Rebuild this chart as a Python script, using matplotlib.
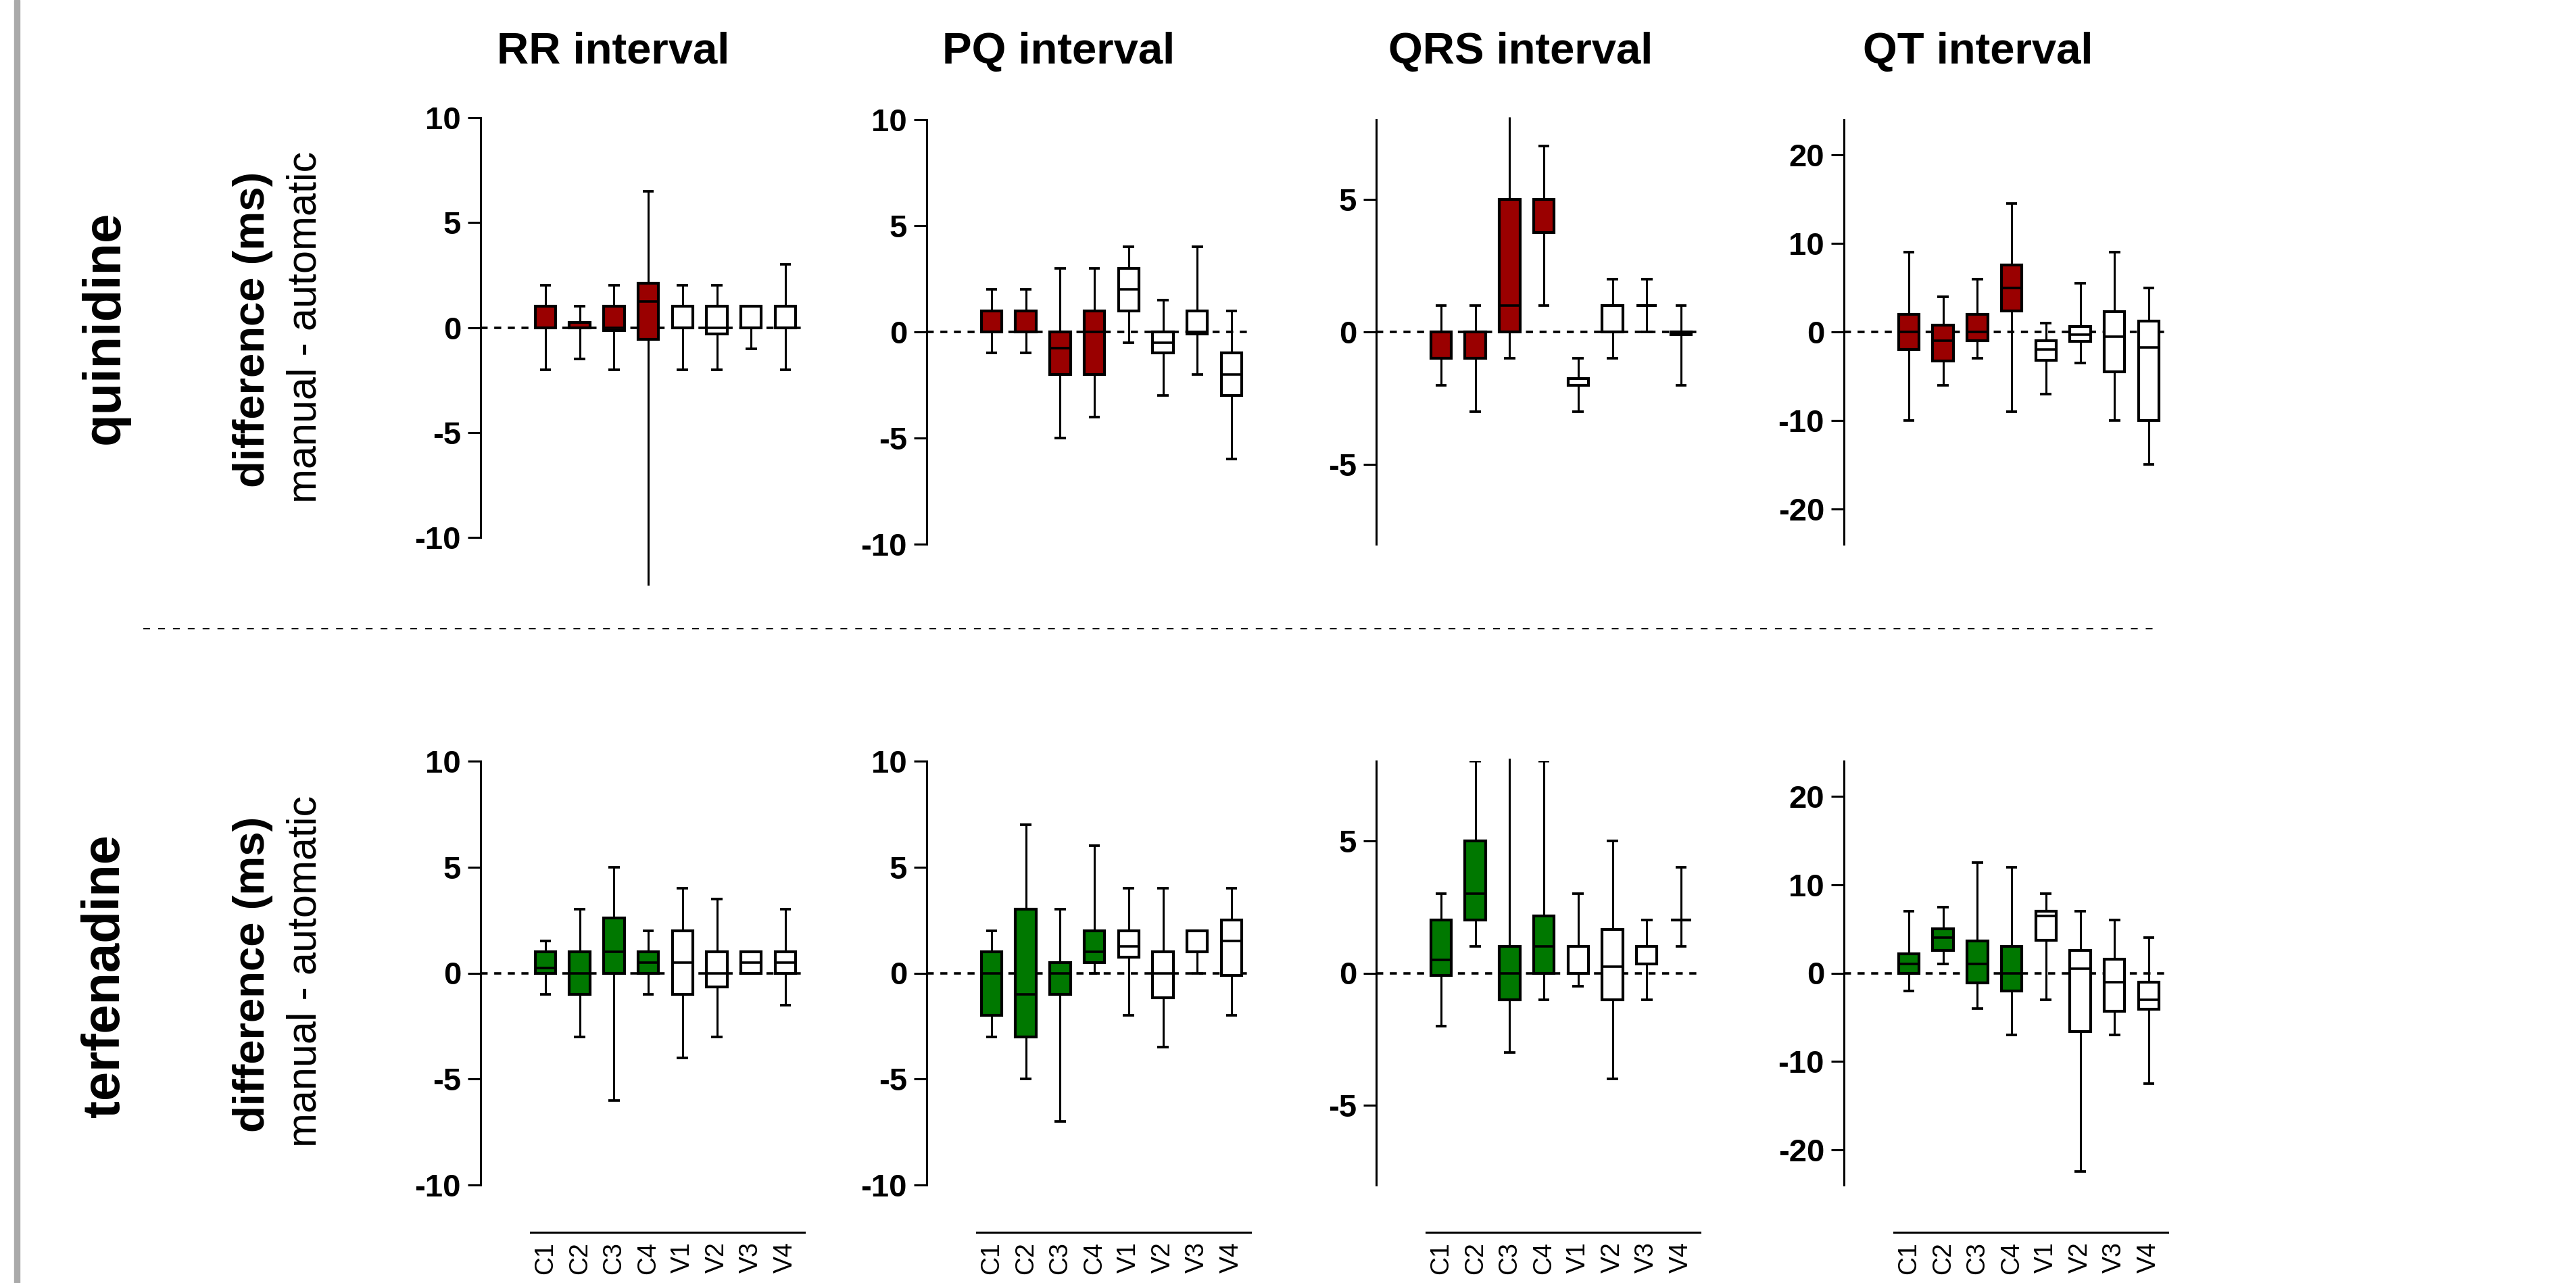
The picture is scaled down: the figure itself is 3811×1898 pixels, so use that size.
import matplotlib
matplotlib.use('Agg')
import matplotlib.pyplot as plt
from matplotlib.lines import Line2D
from matplotlib.patches import Rectangle

plt.rcParams['font.family'] = ['Liberation Sans', 'DejaVu Sans']
plt.rcParams['axes.unicode_minus'] = False
plt.rcParams['lines.scale_dashes'] = False

# ---------------- data ----------------
groups = ['C1', 'C2', 'C3', 'C4', 'V1', 'V2', 'V3', 'V4']
titles = ['RR interval', 'PQ interval', 'QRS interval', 'QT interval']
row_names = ['quinidine', 'terfenadine']

# each panel: rows = whisker low, Q1, median, Q3, whisker high
quin_RR = [[-2, -1.5, -2, -12.3, -2, -2, -1, -2],
           [0, 0, -0.15, -0.55, 0, -0.3, 0, 0],
           [0, 0, 0, 1.25, 0, 0, 0, 0],
           [1, 0.25, 1, 2.1, 1, 1, 1, 1],
           [2, 1, 2, 6.5, 2, 2, 1, 3]]
quin_PQ = [[-1, -1, -5, -4, -0.5, -3, -2, -6],
           [0, 0, -2, -2, 1, -1, -0.1, -3],
           [0, 0, -0.75, 0, 2, -0.5, 0, -2],
           [1, 1, 0, 1, 3, 0, 1, -1],
           [2, 2, 3, 3, 4, 1.5, 4, 1]]
quin_QRS = [[-2, -3, -1, 1, -3, -1, 0, -2],
            [-1, -1, 0, 3.75, -2, 0, 1, -0.1],
            [0, 0, 1, 5, -2, 0, 1, 0],
            [0, 0, 5, 5, -1.75, 1, 1, 0],
            [1, 1, 8.1, 7, -1, 2, 2, 1]]
quin_QT = [[-10, -6, -3, -9, -7, -3.5, -10, -15],
           [-2, -3.25, -1, 2.4, -3.2, -1.1, -4.5, -10],
           [0, -1, 0, 5, -2, -0.3, -0.5, -1.75],
           [2, 0.75, 2, 7.6, -1, 0.6, 2.3, 1.25],
           [9, 4, 6, 14.5, 1, 5.5, 9, 5]]
terf_RR = [[-1, -3, -6, -1, -4, -3, 0, -1.5],
           [0, -1, 0, 0, -1, -0.65, 0, 0],
           [0.25, 0, 1, 0.5, 0.5, 0, 0.5, 0.5],
           [1, 1, 2.6, 1, 2, 1, 1, 1],
           [1.5, 3, 5, 2, 4, 3.5, 1, 3]]
terf_PQ = [[-3, -5, -7, 0, -2, -3.5, 0, -2],
           [-2, -3, -1, 0.5, 0.75, -1.15, 1, -0.1],
           [0, -1, 0, 1, 1.25, 0, 1, 1.5],
           [1, 3, 0.5, 2, 2, 1, 2, 2.5],
           [2, 7, 3, 6, 4, 4, 2, 4]]
terf_QRS = [[-2, 1, -3, -1, -0.5, -4, -1, 1],
            [-0.1, 2, -1, 0, 0, -1, 0.35, 2],
            [0.5, 3, 0, 1, 0, 0.25, 1, 2],
            [2, 5, 1, 2.15, 1, 1.65, 1, 2],
            [3, 8, 8.1, 8, 3, 5, 2, 4]]
terf_QT = [[-2, 1, -4, -7, -3, -22.5, -7, -12.5],
           [0, 2.6, -1.1, -2, 3.7, -6.6, -4.3, -4.1],
           [1, 4, 1, 0, 6.5, 0.5, -1, -3],
           [2.2, 5, 3.6, 3, 7, 2.6, 1.6, -1],
           [7, 7.5, 12.5, 12, 9, 7, 6, 4]]

yticks_list = [[-10, -5, 0, 5, 10], [-10, -5, 0, 5, 10], [-5, 0, 5], [-20, -10, 0, 10, 20]]
ylims = [10, 10, 8, 24]

# ---------------- layout ----------------
W, H = 3811, 1898
fig = plt.figure(figsize=(W / 100, H / 100), dpi=100)
fig.patch.set_facecolor('white')

RED = '#9a0000'
GREEN = '#007800'

axis_left = [711, 1371, 2036, 2728]
spacing = 50.7
x_lo = -96 / spacing
x_hi = 7 + 24 / spacing
ax_w = (x_hi - x_lo) * spacing
top_rows = [[(174, 795), (177, 805), (177, 805), (177, 805)],
            [(1126, 1753), (1126, 1753), (1126, 1753), (1126, 1753)]]
title_x = [907, 1566, 2250, 2926]

data = [[quin_RR, quin_PQ, quin_QRS, quin_QT],
        [terf_RR, terf_PQ, terf_QRS, terf_QT]]
fills = [RED, GREEN]


def draw_panel(left, top, bottom, stats5, fill, yt, ylim, bottom_row):
    ax = fig.add_axes([left / W, 1 - bottom / H, ax_w / W, (bottom - top) / H])
    ax.set_facecolor('none')
    ax.set_xlim(x_lo, x_hi)
    ax.set_ylim(-ylim, ylim)
    stats = []
    for i in range(len(groups)):
        stats.append(dict(whislo=stats5[0][i], q1=stats5[1][i], med=stats5[2][i],
                          q3=stats5[3][i], whishi=stats5[4][i], fliers=[]))
    res = ax.bxp(stats, positions=list(range(len(groups))), widths=0.60, capwidths=0.33,
                 patch_artist=True, showfliers=False, manage_ticks=False,
                 boxprops=dict(linewidth=3.0, edgecolor='black'),
                 whiskerprops=dict(linewidth=2.2, color='black', solid_capstyle='butt'),
                 capprops=dict(linewidth=2.7, color='black', solid_capstyle='butt'),
                 medianprops=dict(linewidth=2.6, color='black', solid_capstyle='butt'),
                 zorder=3)
    for i, patch in enumerate(res['boxes']):
        patch.set_facecolor(fill if i < 4 else 'white')
    for wl in res['whiskers']:
        wl.set_clip_on(False)
    ax.axhline(0, color='black', lw=2.6, linestyle=(0, (7.5, 7.0)), zorder=1)

    for s in ['top', 'right']:
        ax.spines[s].set_visible(False)
    ax.spines['left'].set_linewidth(2.2)
    ax.set_yticks(yt)
    ax.set_yticklabels([str(v) for v in yt])
    ax.tick_params(axis='y', length=14, width=2.2, pad=6.8, labelsize=34)
    for lab in ax.get_yticklabels():
        lab.set_fontweight('bold')
    if bottom_row:
        ax.spines['bottom'].set_position(('outward', 50.4))
        ax.spines['bottom'].set_bounds(-0.43, 7.55)
        ax.spines['bottom'].set_linewidth(2.2)
        ax.set_xticks(list(range(len(groups))))
        ax.set_xticklabels(groups, rotation=90)
        ax.tick_params(axis='x', length=0, pad=10, labelsize=27)
    else:
        ax.spines['bottom'].set_visible(False)
        ax.set_xticks([])
    return ax


for r in range(2):
    for c in range(4):
        top, bottom = top_rows[r][c]
        draw_panel(axis_left[c], top, bottom, data[r][c], fills[r],
                   yticks_list[c], ylims[c], r == 1)

# column titles
for c in range(4):
    fig.text(title_x[c] / W, 1 - 94 / H, titles[c], ha='center', va='baseline',
             fontsize=47, fontweight='bold')

# row labels
row_cy = [484, 1444]
diff_cy = [487, 1441]
man_cy = [484, 1437]
for r in range(2):
    fig.text(176 / W, 1 - row_cy[r] / H, row_names[r], rotation=90, rotation_mode='anchor',
             ha='center', va='baseline', fontsize=56, fontweight='bold')
    fig.text(391 / W, 1 - diff_cy[r] / H, 'difference (ms)', rotation=90, rotation_mode='anchor',
             ha='center', va='baseline', fontsize=47, fontweight='bold')
    fig.text(468 / W, 1 - man_cy[r] / H, 'manual - automatic', rotation=90, rotation_mode='anchor',
             ha='center', va='baseline', fontsize=44)

# separator line and left grey bar
fig.add_artist(Line2D([212 / W, 3189 / W], [1 - 930 / H, 1 - 930 / H], color='black', lw=1.5,
                      linestyle=(0, (7.2, 8.6))))
fig.add_artist(Rectangle((21 / W, 0), 8 / W, 1, color='#aaaaaa', transform=fig.transFigure))

fig.savefig('out.png', dpi=100, facecolor='white')
